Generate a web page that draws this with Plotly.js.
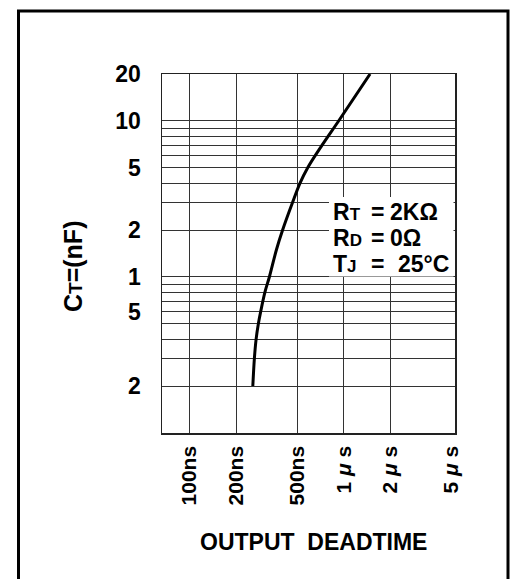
<!DOCTYPE html>
<html>
<head>
<meta charset="utf-8">
<script src="https://cdn.plot.ly/plotly-3.0.1.min.js"></script>
<style>
html,body{margin:0;padding:0;background:#fff;}
#chart{width:514px;height:579px;}
</style>
</head>
<body>
<div id="chart"></div>
<script>
// Curve: CT (nF) versus output deadtime (ns)
const deadtimeNs = [257, 263, 270, 279, 289, 308, 329, 366, 401, 465, 520, 582, 723, 925, 1480];
const ctNf       = [0.2, 0.3, 0.4, 0.5, 0.6, 0.8, 1.0, 1.5, 2,   3,   4,   5,   7,   10,  20];

// X axis ticks (ns)
const xTickVals = [100, 200, 500, 1000, 2000, 5000];
const xTickText = ['100ns', '200ns', '500ns', '1 <i>μ</i> s', '2 <i>μ</i> s', '5 <i>μ</i> s'];
const xGridVals = [100, 200, 500, 1000, 2000];

// Y axis ticks (nF)
const yTickVals = [20, 10, 5, 2, 1, 0.6, 0.2];
const yTickText = ['20', '10', '5', '2', '1', '5', '2'];
const yGridVals = [10, 9, 8, 7, 6, 5, 4, 3, 2, 1, 0.9, 0.8, 0.7, 0.6, 0.5, 0.4, 0.3, 0.2];

// Conditions
const condNames  = ['R<span style="font-size:17px">T</span>', 'R<span style="font-size:17px">D</span>', 'T<span style="font-size:17px">J</span>'];
const condValues = ['2KΩ', '0Ω', '25°C'];

const FONT = 'Liberation Sans, Arial, Helvetica, sans-serif';
const L = 162, R = 455, T = 74, B = 433, W = 514, H = 579;
const px2x = p => (p - L) / (R - L);
const px2y = p => (B - p) / (B - T);

const trace = {
  x: deadtimeNs, y: ctNf, type: 'scatter', mode: 'lines',
  line: {color: '#000', width: 3, shape: 'spline', smoothing: 1},
  hoverinfo: 'skip', showlegend: false
};

const condFont = {family: FONT, size: 23, color: '#000', weight: 'bold'};
const rowY = [211.7, 238, 264];
const valX = [388, 388, 396];
const annotations = [];
condNames.forEach((t, i) => {
  annotations.push({xref: 'paper', yref: 'paper', x: px2x(331), y: px2y(rowY[i]),
    xanchor: 'left', yanchor: 'middle', text: t, showarrow: false, font: condFont});
  annotations.push({xref: 'paper', yref: 'paper', x: px2x(377), y: px2y(rowY[i]),
    xanchor: 'center', yanchor: 'middle', text: '=', showarrow: false, font: condFont});
  annotations.push({xref: 'paper', yref: 'paper', x: px2x(valX[i]), y: px2y(rowY[i]),
    xanchor: 'left', yanchor: 'middle', text: condValues[i], showarrow: false, font: condFont});
});
annotations.push({
  xref: 'paper', yref: 'paper', x: px2x(313), y: px2y(541.5),
  xanchor: 'center', yanchor: 'middle', showarrow: false,
  text: 'OUTPUT\u00a0\u00a0DEADTIME',
  font: {family: FONT, size: 23, color: '#000', weight: 'bold'}
});
annotations.push({
  xref: 'paper', yref: 'paper', x: px2x(73), y: px2y(267),
  xanchor: 'center', yanchor: 'middle', showarrow: false, textangle: -90,
  text: 'C<span style="font-size:19px">T</span>=(nF)',
  font: {family: FONT, size: 25, color: '#000', weight: 'bold'}
});

const layout = {
  width: W, height: H,
  margin: {l: L, r: W - R, t: T, b: H - B, pad: 0},
  paper_bgcolor: '#fff', plot_bgcolor: '#fff',
  showlegend: false,
  xaxis: {
    type: 'log', range: [1.821, 3.721],
    tickmode: 'array', tickvals: xTickVals, ticktext: xTickText,
    tickangle: -90, ticks: '', showgrid: false, zeroline: false,
    ticklabelstandoff: 3,
    tickfont: {family: FONT, size: 21, color: '#000', weight: 'bold'},
    showline: true, mirror: true, linecolor: '#222', linewidth: 1.5,
    minor: {tickmode: 'array', tickvals: xGridVals, showgrid: true, gridcolor: '#333', gridwidth: 1, ticks: ''},
    fixedrange: true
  },
  yaxis: {
    type: 'log', range: [-1, Math.log10(20)],
    tickmode: 'array', tickvals: yTickVals, ticktext: yTickText,
    ticks: '', showgrid: false, zeroline: false,
    ticklabelstandoff: 15,
    tickfont: {family: FONT, size: 23, color: '#000', weight: 'bold'},
    showline: true, mirror: true, linecolor: '#222', linewidth: 1.5,
    minor: {tickmode: 'array', tickvals: yGridVals, showgrid: true, gridcolor: '#333', gridwidth: 1, ticks: ''},
    fixedrange: true
  },
  shapes: [
    {type: 'rect', xref: 'paper', yref: 'paper', layer: 'above',
     x0: px2x(329), x1: px2x(453.5), y0: px2y(197), y1: px2y(276.5),
     fillcolor: '#fff', line: {width: 0}},
    {type: 'rect', xref: 'paper', yref: 'paper', layer: 'above',
     x0: px2x(18.5), x1: px2x(508), y0: px2y(11), y1: px2y(584),
     fillcolor: 'rgba(0,0,0,0)', line: {color: '#000', width: 3}}
  ],
  annotations: annotations
};

Plotly.newPlot('chart', [trace], layout, {displayModeBar: false, staticPlot: true});
</script>
</body>
</html>
